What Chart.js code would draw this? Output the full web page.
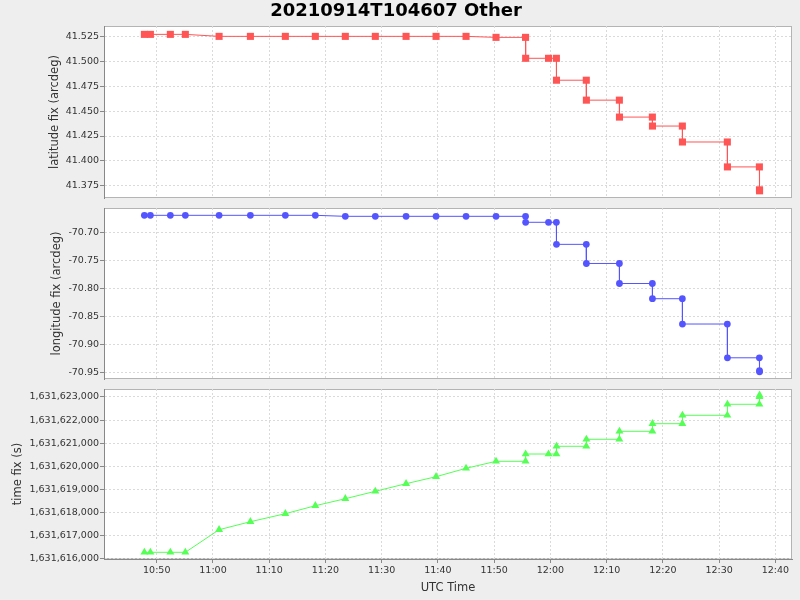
<!DOCTYPE html>
<html>
<head>
  <meta charset="UTF-8">
  <title>20210914T104607 Other</title>
  <script src="https://cdn.jsdelivr.net/npm/chart.js"></script>
  <style>
    body { margin: 0; background: #eeeeee; }
    #wrap { position: relative; width: 800px; height: 600px; }
    canvas { position: absolute; left: 0; top: 0; }
  </style>
</head>
<body>
<div id="wrap">
  <canvas id="latChart" width="800" height="600"></canvas>
  <canvas id="lonChart" width="800" height="600"></canvas>
  <canvas id="timeChart" width="800" height="600"></canvas>
</div>
<script>
// UTC time of each record
const utcTimes = [
  '10:47:48', '10:48:52', '10:52:25', '10:55:05', '11:01:05', '11:06:39',
  '11:12:52', '11:18:12', '11:23:32', '11:28:52', '11:34:20', '11:39:40',
  '11:45:00', '11:50:20', '11:55:35', '11:55:36', '11:59:40', '12:01:04',
  '12:01:05', '12:06:23', '12:06:24', '12:12:16', '12:12:17', '12:18:08',
  '12:18:09', '12:23:28', '12:23:29', '12:31:28', '12:31:29', '12:37:10',
  '12:37:11', '12:37:12'
];
const latitudeFix = [
  41.527, 41.527, 41.527, 41.527, 41.525, 41.525,
  41.525, 41.525, 41.525, 41.525, 41.525, 41.525,
  41.525, 41.524, 41.524, 41.503, 41.503, 41.503,
  41.481, 41.481, 41.461, 41.461, 41.444, 41.444,
  41.435, 41.435, 41.419, 41.419, 41.394, 41.394,
  41.371, 41.370
];
const longitudeFix = [
  -70.6698, -70.6698, -70.6698, -70.6698, -70.6698, -70.6698,
  -70.6698, -70.6698, -70.6716, -70.6716, -70.6716, -70.6716,
  -70.6716, -70.6716, -70.6716, -70.6822, -70.6822, -70.6822,
  -70.7214, -70.7214, -70.7554, -70.7554, -70.791, -70.791,
  -70.818, -70.818, -70.863, -70.863, -70.923, -70.923,
  -70.946, -70.948
];
const timeFix = [
  1631616277, 1631616277, 1631616277, 1631616277, 1631617255, 1631617602,
  1631617948, 1631618294, 1631618597, 1631618918, 1631619247, 1631619550,
  1631619913, 1631620216, 1631620216, 1631620532, 1631620532, 1631620532,
  1631620866, 1631620866, 1631621169, 1631621169, 1631621515, 1631621515,
  1631621844, 1631621844, 1631622208, 1631622208, 1631622684, 1631622684,
  1631623013, 1631623080
];

const xTickLabels = ['10:50', '11:00', '11:10', '11:20', '11:30', '11:40', '11:50',
  '12:00', '12:10', '12:20', '12:30', '12:40'];
const latTicks = [41.375, 41.4, 41.425, 41.45, 41.475, 41.5, 41.525];
const lonTicks = [-70.95, -70.9, -70.85, -70.8, -70.75, -70.7];
const timeTicks = [1631616000, 1631617000, 1631618000, 1631619000, 1631620000,
  1631621000, 1631622000, 1631623000];

const toSec = (s) => {
  const p = s.split(':').map(Number);
  return p[0] * 3600 + p[1] * 60 + (p[2] || 0);
};
const fmtTime = (v) => {
  const h = Math.floor(v / 3600), m = Math.round((v % 3600) / 60);
  return h + ':' + String(m).padStart(2, '0');
};
const xs = utcTimes.map(toSec);

Chart.defaults.font.family = "'DejaVu Sans', sans-serif";
Chart.defaults.color = '#333';

const plotFrame = {
  id: 'plotFrame',
  beforeDraw(chart) {
    const { ctx, chartArea: a } = chart;
    ctx.save();
    ctx.fillStyle = '#ffffff';
    ctx.fillRect(a.left, a.top, a.width, a.height);
    ctx.strokeStyle = '#b4b4b4';
    ctx.lineWidth = 1;
    ctx.strokeRect(a.left + 0.5, a.top + 0.5, a.width - 1, a.height - 1);
    ctx.restore();
  }
};

function makeChart(id, o) {
  const showX = !!o.showX;
  new Chart(document.getElementById(id), {
    type: 'line',
    data: {
      datasets: [{
        data: xs.map((x, i) => ({ x: x, y: o.values[i] })),
        borderColor: o.color,
        backgroundColor: o.color,
        borderWidth: 1,
        pointStyle: o.pointStyle,
        pointRadius: o.pointRadius,
        pointBorderWidth: 0,
        pointBackgroundColor: o.color,
        tension: 0,
        clip: false
      }]
    },
    options: {
      responsive: false,
      animation: false,
      events: [],
      layout: { padding: o.padding },
      plugins: {
        legend: { display: false },
        tooltip: { enabled: false },
        title: o.title ? {
          display: true,
          text: o.title,
          font: { size: 18, weight: 'bold' },
          color: '#000',
          padding: { top: 1, bottom: 3.4 }
        } : { display: false }
      },
      scales: {
        x: {
          type: 'linear',
          min: toSec('10:40:37'),
          max: toSec('12:42:58'),
          afterBuildTicks: (s) => { s.ticks = xTickLabels.map((t) => ({ value: toSec(t) })); },
          afterFit: (s) => { s.height = showX ? 41 : 0; },
          grid: {
            color: '#dadada',
            drawTicks: showX,
            tickLength: 4,
            tickColor: '#888',
            tickBorderDash: []
          },
          border: { display: showX, color: '#888', dash: [2, 2] },
          ticks: {
            display: showX,
            callback: (v) => fmtTime(v),
            font: { size: 9.5 },
            color: '#333',
            padding: 2,
            maxRotation: 0,
            autoSkip: false
          },
          title: {
            display: showX,
            text: 'UTC Time',
            font: { size: 11.5 },
            color: '#333',
            padding: { top: 0, bottom: 5 }
          }
        },
        y: {
          type: 'linear',
          min: o.min,
          max: o.max,
          afterBuildTicks: (s) => { s.ticks = o.ticks.map((v) => ({ value: v })); },
          afterFit: (s) => { s.width = 104; },
          grid: {
            color: '#dadada',
            tickLength: 4,
            tickColor: '#888',
            tickBorderDash: []
          },
          border: { display: true, color: '#888', dash: [2, 2] },
          ticks: {
            callback: o.fmt,
            font: { size: 9.5 },
            color: '#333',
            padding: 1,
            autoSkip: false
          },
          title: {
            display: true,
            text: o.yTitle,
            font: { size: 11.5 },
            color: '#333',
            padding: { top: o.titlePad, bottom: 0 }
          }
        }
      }
    },
    plugins: [plotFrame]
  });
}

makeChart('latChart', {
  values: latitudeFix, color: '#ff5555', pointStyle: 'rect', pointRadius: 5,
  min: 41.3628, max: 41.5354, ticks: latTicks, fmt: (v) => v.toFixed(3),
  yTitle: 'latitude fix (arcdeg)', titlePad: 48, title: '20210914T104607 Other',
  padding: { top: 0, bottom: 402, left: 0, right: 8 }
});
makeChart('lonChart', {
  values: longitudeFix, color: '#5555ff', pointStyle: 'circle', pointRadius: 3.4,
  min: -70.9607, max: -70.6568, ticks: lonTicks, fmt: (v) => v.toFixed(2),
  yTitle: 'longitude fix (arcdeg)', titlePad: 50,
  padding: { top: 208, bottom: 221, left: 0, right: 8 }
});
makeChart('timeChart', {
  values: timeFix, color: '#55ff55', pointStyle: 'triangle', pointRadius: 4.6,
  min: 1631615987, max: 1631623346, ticks: timeTicks,
  fmt: (v) => v.toLocaleString('en-US'),
  yTitle: 'time fix (s)', titlePad: 11, showX: true,
  padding: { top: 389, bottom: 0, left: 0, right: 8 }
});
</script>
</body>
</html>
